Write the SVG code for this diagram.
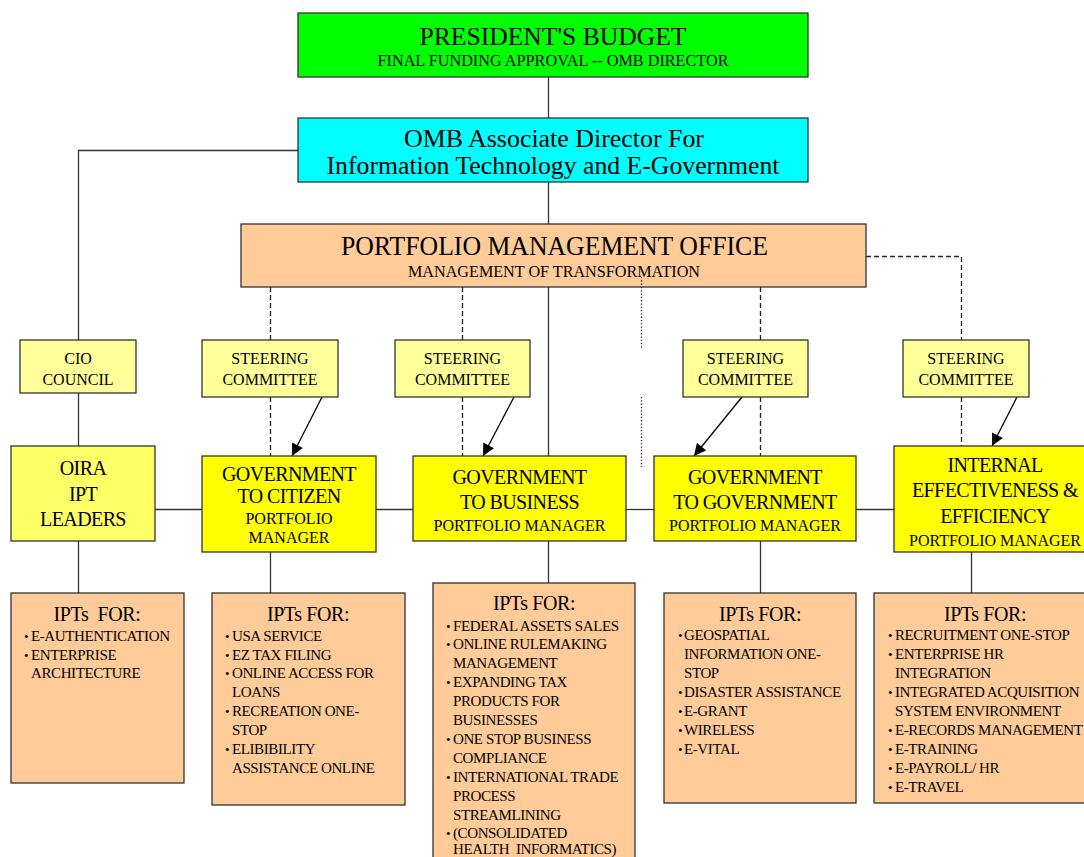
<svg xmlns="http://www.w3.org/2000/svg" width="1084" height="857" viewBox="0 0 1084 857">
<style>
text{font-family:"Liberation Serif","Times New Roman",serif;fill:#000;text-anchor:middle}
.box{stroke:#333;stroke-width:1.3}
.green{fill:#00FF00}.cyan{fill:#00FFFF}.peach{fill:#FFCC99}.lt{fill:#FFFF99}.oira{fill:#FFFF66}.yel{fill:#FFFF00}
.s16{font-size:16px}
.s20{font-size:20px;letter-spacing:-0.6px}
.hd{font-size:20px;letter-spacing:-0.4px}
.li{font-size:15px;letter-spacing:-0.4px;text-anchor:start}
.bu{font-size:13px;text-anchor:start}
.ln{fill:none;stroke:#333;stroke-width:1.3}
.da{fill:none;stroke:#222;stroke-width:1.3;stroke-dasharray:5 3}
.dt{fill:none;stroke:#222;stroke-width:1.3;stroke-dasharray:1.3 2}
.ar{fill:none;stroke:#000;stroke-width:1.3;marker-end:url(#ah)}
</style>
<defs>
<marker id="ah" viewBox="0 0 10 10" refX="10" refY="5" markerWidth="13" markerHeight="12" markerUnits="userSpaceOnUse" orient="auto">
<path d="M0,0 L10,5 L0,10 z" fill="#000"/>
</marker>
</defs>
<rect width="1084" height="857" fill="#fff"/>

<g id="connectors">
<path class="ln" d="M548.5 77 V118"/>
<path class="ln" d="M548.5 182 V224"/>
<path class="ln" d="M298 150.5 H78.5 V340"/>
<path class="ln" d="M78.5 393 V446"/>
<path class="ln" d="M78.5 541 V593"/>
<path class="ln" d="M548.5 287 V456"/>
<path class="ln" d="M548.5 541 V583"/>
<path class="ln" d="M155 509.5 H202"/>
<path class="ln" d="M376 509.5 H413"/>
<path class="ln" d="M626 509.5 H654"/>
<path class="ln" d="M856 509.5 H894"/>
<path class="ln" d="M270.5 552 V593"/>
<path class="ln" d="M760.5 541 V593"/>
<path class="ln" d="M971.5 552 V593"/>
<path class="da" d="M270.5 287 V340"/>
<path class="da" d="M270.5 397 V456"/>
<path class="da" d="M462.5 287 V340"/>
<path class="da" d="M462.5 397 V456"/>
<path class="da" d="M760.5 287 V340"/>
<path class="da" d="M760.5 397 V456"/>
<path class="da" d="M866 256.5 H961.5 V340"/>
<path class="da" d="M961.5 397 V446"/>
<path class="dt" d="M641.5 397 V467"/>
<path class="ar" d="M322 397 L292 456"/>
<path class="ar" d="M514 397 L483 456"/>
<path class="ar" d="M742 397 L694 456"/>
<path class="ar" d="M1017 397 L992 446"/>
</g>

<g id="presidents-budget">
<rect class="box green" x="298" y="13" width="510" height="64"/>
<text x="553" y="45" style="font-size:26px" textLength="267" lengthAdjust="spacingAndGlyphs">PRESIDENT'S BUDGET</text>
<text x="553" y="66" style="font-size:16px" textLength="351" lengthAdjust="spacingAndGlyphs">FINAL FUNDING APPROVAL -- OMB DIRECTOR</text>
</g>

<g id="omb-associate-director">
<rect class="box cyan" x="298" y="118" width="510" height="64"/>
<text x="554" y="147" style="font-size:26px" textLength="300" lengthAdjust="spacingAndGlyphs">OMB Associate Director For</text>
<text x="553" y="174" style="font-size:26px" textLength="453" lengthAdjust="spacingAndGlyphs">Information Technology and E-Government</text>
</g>

<g id="portfolio-management-office">
<rect class="box peach" x="241" y="224" width="625" height="63"/>
<text x="554.5" y="255" style="font-size:28px" textLength="427" lengthAdjust="spacingAndGlyphs">PORTFOLIO MANAGEMENT OFFICE</text>
<text x="554" y="277" style="font-size:16px" textLength="292" lengthAdjust="spacingAndGlyphs">MANAGEMENT OF TRANSFORMATION</text>
</g>
<path class="dt" d="M641.5 277 V348"/>

<g id="cio-council">
<rect class="box lt" x="20" y="340" width="116" height="53"/>
<text class="s16" x="78" y="364">CIO</text>
<text class="s16" x="78" y="385">COUNCIL</text>
</g>

<g id="steering-1">
<rect class="box lt" x="202" y="340" width="136" height="57"/>
<text class="s16" x="270" y="364">STEERING</text>
<text class="s16" x="270" y="385">COMMITTEE</text>
</g>
<g id="steering-2">
<rect class="box lt" x="395" y="340" width="135" height="57"/>
<text class="s16" x="462.5" y="364">STEERING</text>
<text class="s16" x="462.5" y="385">COMMITTEE</text>
</g>
<g id="steering-3">
<rect class="box lt" x="683" y="340" width="125" height="57"/>
<text class="s16" x="745.5" y="364">STEERING</text>
<text class="s16" x="745.5" y="385">COMMITTEE</text>
</g>
<g id="steering-4">
<rect class="box lt" x="903" y="340" width="126" height="57"/>
<text class="s16" x="966" y="364">STEERING</text>
<text class="s16" x="966" y="385">COMMITTEE</text>
</g>

<g id="oira-ipt-leaders">
<rect class="box oira" x="11" y="446" width="144" height="95"/>
<text class="s20" x="83" y="475">OIRA</text>
<text class="s20" x="83" y="501">IPT</text>
<text class="s20" x="83" y="526">LEADERS</text>
</g>

<g id="g2c">
<rect class="box yel" x="202" y="456" width="174" height="96"/>
<text class="s20" x="289" y="481">GOVERNMENT</text>
<text class="s20" x="289" y="503">TO CITIZEN</text>
<text class="s16" x="289" y="524">PORTFOLIO</text>
<text class="s16" x="289" y="543">MANAGER</text>
</g>

<g id="g2b">
<rect class="box yel" x="413" y="456" width="213" height="85"/>
<text class="s20" x="519.5" y="484">GOVERNMENT</text>
<text class="s20" x="519.5" y="509">TO BUSINESS</text>
<text class="s16" x="519.5" y="531">PORTFOLIO MANAGER</text>
</g>

<g id="g2g">
<rect class="box yel" x="654" y="456" width="202" height="85"/>
<text class="s20" x="755" y="484">GOVERNMENT</text>
<text class="s20" x="755" y="509">TO GOVERNMENT</text>
<text class="s16" x="755" y="531">PORTFOLIO MANAGER</text>
</g>

<g id="internal-effectiveness">
<rect class="box yel" x="894" y="446" width="202" height="106"/>
<text class="s20" x="995" y="472">INTERNAL</text>
<text class="s20" x="995" y="497">EFFECTIVENESS &amp;</text>
<text class="s20" x="995" y="523">EFFICIENCY</text>
<text class="s16" x="995" y="546">PORTFOLIO MANAGER</text>
</g>

<g id="ipts-oira">
<rect class="box peach" x="11" y="593" width="173" height="190"/>
<text class="hd" x="97" y="621" xml:space="preserve">IPTs  FOR:</text>
<text class="bu" x="24" y="641">•</text><text class="li" x="31" y="641">E-AUTHENTICATION</text>
<text class="bu" x="24" y="660">•</text><text class="li" x="31" y="660">ENTERPRISE</text>
<text class="li" x="31" y="678">ARCHITECTURE</text>
</g>

<g id="ipts-g2c">
<rect class="box peach" x="212" y="593" width="193" height="212"/>
<text class="hd" x="308" y="621">IPTs FOR:</text>
<text class="bu" x="225" y="641">•</text><text class="li" x="232" y="641">USA SERVICE</text>
<text class="bu" x="225" y="660">•</text><text class="li" x="232" y="660">EZ TAX FILING</text>
<text class="bu" x="225" y="678">•</text><text class="li" x="232" y="678">ONLINE ACCESS FOR</text>
<text class="li" x="232" y="697">LOANS</text>
<text class="bu" x="225" y="716">•</text><text class="li" x="232" y="716">RECREATION ONE-</text>
<text class="li" x="232" y="735">STOP</text>
<text class="bu" x="225" y="754">•</text><text class="li" x="232" y="754">ELIBIBILITY</text>
<text class="li" x="232" y="773">ASSISTANCE ONLINE</text>
</g>

<g id="ipts-g2b">
<rect class="box peach" x="433" y="583" width="202" height="290"/>
<text class="hd" x="534" y="610">IPTs FOR:</text>
<text class="bu" x="446" y="631">•</text><text class="li" x="453" y="631">FEDERAL ASSETS SALES</text>
<text class="bu" x="446" y="649">•</text><text class="li" x="453" y="649">ONLINE RULEMAKING</text>
<text class="li" x="453" y="668">MANAGEMENT</text>
<text class="bu" x="446" y="687">•</text><text class="li" x="453" y="687">EXPANDING TAX</text>
<text class="li" x="453" y="706">PRODUCTS FOR</text>
<text class="li" x="453" y="725">BUSINESSES</text>
<text class="bu" x="446" y="744">•</text><text class="li" x="453" y="744">ONE STOP BUSINESS</text>
<text class="li" x="453" y="763">COMPLIANCE</text>
<text class="bu" x="446" y="782">•</text><text class="li" x="453" y="782">INTERNATIONAL TRADE</text>
<text class="li" x="453" y="801">PROCESS</text>
<text class="li" x="453" y="820">STREAMLINING</text>
<text class="bu" x="446" y="838">•</text><text class="li" x="453" y="838">(CONSOLIDATED</text>
<text class="li" x="453" y="854" xml:space="preserve">HEALTH  INFORMATICS)</text>
</g>

<g id="ipts-g2g">
<rect class="box peach" x="664" y="593" width="192" height="210"/>
<text class="hd" x="760" y="621">IPTs FOR:</text>
<text class="bu" x="678" y="640">•</text><text class="li" x="684" y="640">GEOSPATIAL</text>
<text class="li" x="684" y="659">INFORMATION ONE-</text>
<text class="li" x="684" y="678">STOP</text>
<text class="bu" x="678" y="697">•</text><text class="li" x="684" y="697">DISASTER ASSISTANCE</text>
<text class="bu" x="678" y="716">•</text><text class="li" x="684" y="716">E-GRANT</text>
<text class="bu" x="678" y="735">•</text><text class="li" x="684" y="735">WIRELESS</text>
<text class="bu" x="678" y="754">•</text><text class="li" x="684" y="754">E-VITAL</text>
</g>

<g id="ipts-iee">
<rect class="box peach" x="874" y="593" width="222" height="210"/>
<text class="hd" x="985" y="621">IPTs FOR:</text>
<text class="bu" x="888" y="640">•</text><text class="li" x="895" y="640">RECRUITMENT ONE-STOP</text>
<text class="bu" x="888" y="659">•</text><text class="li" x="895" y="659">ENTERPRISE HR</text>
<text class="li" x="895" y="678">INTEGRATION</text>
<text class="bu" x="888" y="697">•</text><text class="li" x="895" y="697">INTEGRATED ACQUISITION</text>
<text class="li" x="895" y="716">SYSTEM ENVIRONMENT</text>
<text class="bu" x="888" y="735">•</text><text class="li" x="895" y="735">E-RECORDS MANAGEMENT</text>
<text class="bu" x="888" y="754">•</text><text class="li" x="895" y="754">E-TRAINING</text>
<text class="bu" x="888" y="773">•</text><text class="li" x="895" y="773">E-PAYROLL/ HR</text>
<text class="bu" x="888" y="792">•</text><text class="li" x="895" y="792">E-TRAVEL</text>
</g>
</svg>
